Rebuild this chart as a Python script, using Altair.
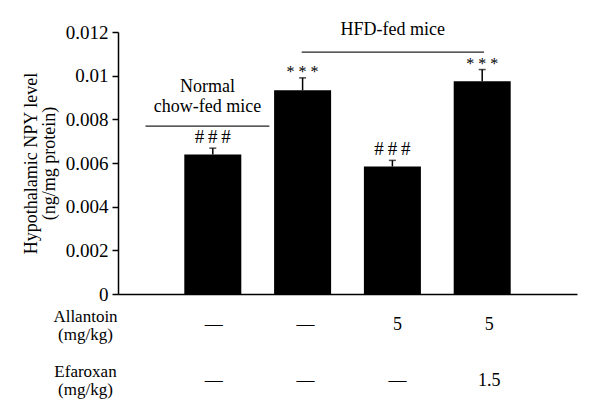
import altair as alt
import pandas as pd

# ---- data ----
groups = ["Normal chow", "HFD", "HFD + Allantoin", "HFD + Allantoin + Efaroxan"]
positions = [1, 2, 3, 4]
npy_mean = [0.00639, 0.00933, 0.00584, 0.00974]
npy_sem = [0.00029, 0.00057, 0.00028, 0.00054]
sig_marks = ["#\u2009#\u2009#", "* * *", "#\u2009#\u2009#", "* * *"]
sig_kind = ["hash", "star", "hash", "star"]

allantoin = ["\u2014", "\u2014", "5", "5"]
efaroxan = ["\u2014", "\u2014", "\u2014", "1.5"]
row_labels = ["Allantoin (mg/kg)", "Efaroxan (mg/kg)"]

bracket_text = [["Normal", "chow-fed mice"], ["HFD-fed mice"]]
bracket_start = [0.25, 1.99]
bracket_end = [1.63, 4.02]
bracket_y = [0.00769, 0.01108]
bracket_text_y = [0.00925, 0.01188]

FONT = "Liberation Serif"

bars = pd.DataFrame({
    "group": groups,
    "pos": positions,
    "mean": npy_mean,
    "upper": [m + s for m, s in zip(npy_mean, npy_sem)],
    "sig": sig_marks,
    "kind": sig_kind,
})
brackets = pd.DataFrame({
    "x": bracket_start,
    "x2": bracket_end,
    "y": bracket_y,
    "ty": bracket_text_y,
    "tx": [(a + b) / 2 for a, b in zip(bracket_start, bracket_end)],
    "label": bracket_text,
})
table = pd.DataFrame({
    "pos": positions * 2,
    "row": [row_labels[0]] * 4 + [row_labels[1]] * 4,
    "val": allantoin + efaroxan,
})

xscale = alt.Scale(domain=[0, 5], nice=False, zero=False)
yscale = alt.Scale(domain=[0, 0.012], nice=False)

base = alt.Chart(bars)

bar_layer = base.mark_bar(size=57, color="black").encode(
    x=alt.X("pos:Q", scale=xscale,
            axis=alt.Axis(title=None, labels=False, ticks=False, grid=False,
                          domainColor="black", domainWidth=1.5,
                          minExtent=0, maxExtent=0, labelPadding=0)),
    y=alt.Y("mean:Q", scale=yscale,
            axis=alt.Axis(
                title=["Hypothalamic NPY level", "(ng/mg protein)"],
                values=[0, 0.002, 0.004, 0.006, 0.008, 0.01, 0.012],
                format="~g", grid=False,
                domainColor="black", domainWidth=1.5,
                tickColor="black", tickWidth=1.5, tickSize=6,
                labelFont=FONT, labelFontSize=19, labelColor="black", labelPadding=4,
                titleFont=FONT, titleFontSize=18, titleFontWeight="normal",
                titleColor="black", titleLineHeight=18, titlePadding=7)),
)

err_rule = base.mark_rule(color="black", strokeWidth=1.5).encode(
    x="pos:Q", y="mean:Q", y2="upper:Q")
err_cap = base.mark_tick(color="black", orient="horizontal", size=7, thickness=1.5).encode(
    x="pos:Q", y="upper:Q")

hash_text = base.transform_filter(alt.datum.kind == "hash").mark_text(
    font=FONT, fontSize=19, baseline="alphabetic", dy=-5, color="black").encode(
    x="pos:Q", y="upper:Q", text="sig:N")
star_text = base.transform_filter(alt.datum.kind == "star").mark_text(
    font=FONT, fontSize=16, baseline="alphabetic", dy=-1, color="black").encode(
    x="pos:Q", y="upper:Q", text="sig:N")

br = alt.Chart(brackets)
br_rule = br.mark_rule(color="#222222", strokeWidth=1.3).encode(
    x="x:Q", x2="x2:Q", y="y:Q")
br_text = br.mark_text(font=FONT, fontSize=18, baseline="alphabetic",
                       lineHeight=20, color="black").encode(
    x="tx:Q", y="ty:Q", text="label")

top = alt.layer(bar_layer, err_rule, err_cap, hash_text, star_text,
                br_rule, br_text).properties(width=459, height=262)

bottom = alt.Chart(table).mark_text(font=FONT, fontSize=18, color="black",
                                    dx=4, baseline="middle").encode(
    x=alt.X("pos:Q", scale=xscale, axis=None),
    y=alt.Y("row:N", sort=row_labels,
            scale=alt.Scale(type="point", padding=0.39),
            axis=alt.Axis(title=None, domain=False, ticks=False, grid=False,
                          labelExpr="split(datum.label, ' ')",
                          labelAlign="center", labelBaseline="middle",
                          labelOffset=-9,
                          labelPadding=33, labelFont=FONT, labelFontSize=17,
                          labelColor="black", labelLineHeight=18)),
    text="val:N",
).properties(width=459, height=98)

chart = alt.vconcat(top, bottom, spacing=0).properties(
    padding={"left": 14, "top": 12, "right": 5, "bottom": 0}
).configure(font=FONT).configure_view(stroke=None)

chart.save("out.html", embed_options={"renderer": "svg", "actions": False})
